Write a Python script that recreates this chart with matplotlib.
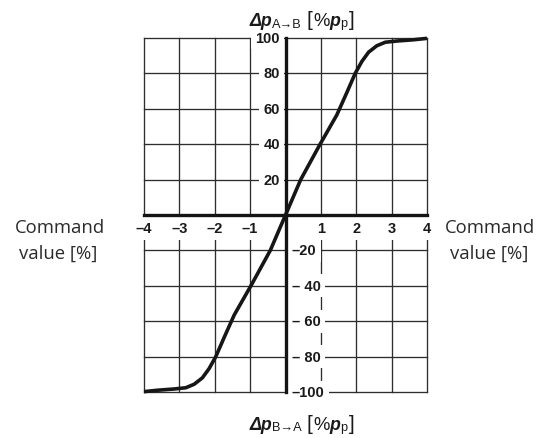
import matplotlib
matplotlib.use("Agg")
import matplotlib.pyplot as plt

# ---- data ----
cmd_x = [-4, -3.62, -3.15, -2.82, -2.58, -2.35, -2.16, -1.97, -1.73, -1.45, -0.95, -0.43, 0,
         0.43, 0.95, 1.45, 1.73, 1.97, 2.16, 2.35, 2.58, 2.82, 3.15, 3.62, 4]
dp_y = [-99.8, -99, -98.3, -97.6, -95.6, -92, -86.8, -80, -69, -56.5, -39, -20, 0,
        20, 39, 56.5, 69, 80, 86.8, 92, 95.6, 97.6, 98.3, 99, 99.8]

x_ticks = [-4, -3, -2, -1, 1, 2, 3, 4]
x_tick_labels = ["–4", "–3", "–2", "–1", "1", "2", "3", "4"]
y_pos_ticks = [20, 40, 60, 80, 100]
y_pos_labels = ["20", "40", "60", "80", "100"]
y_neg_ticks = [-20, -40, -60, -80, -100]
y_neg_labels = ["–20", "– 40", "– 60", "– 80", "–100"]
x_grid = [-4, -3, -2, -1, 1, 2, 3, 4]
y_grid = [-100, -80, -60, -40, -20, 20, 40, 60, 80, 100]

W, H = 539, 439
fig = plt.figure(figsize=(W / 100, H / 100), dpi=100)
L, R, T, B = 144, 427, 39, 393
ax = fig.add_axes([L / W, 1 - B / H, (R - L) / W, (B - T) / H])
ax.set_xlim(-4, 4)
ax.set_ylim(-100, 100)
for s in ax.spines.values():
    s.set_visible(False)
ax.set_xticks([])
ax.set_yticks([])
ax.patch.set_alpha(0)

grid_kw = dict(color='#2e2e2e', lw=0.95, zorder=1, clip_on=False)
for gx in x_grid:
    ax.axvline(gx, **grid_kw)
for gy in y_grid:
    ax.axhline(gy, **grid_kw)

ax.axvline(0, color='#141414', lw=2.4, zorder=4, clip_on=False)
ax.axhline(0, color='#141414', lw=2.4, zorder=4, clip_on=False)

ax.plot(cmd_x, dp_y, color='#161616', lw=2.6, zorder=5, solid_joinstyle='round',
        solid_capstyle='butt', clip_on=False)

tick_font = dict(family=['Liberation Sans Narrow', 'Liberation Sans', 'DejaVu Sans'],
                 weight='bold', size=10.5, color='#1a1a1a')
box = dict(boxstyle='square,pad=0.3', fc='white', ec='none')

for xv, lab in zip(x_ticks, x_tick_labels):
    ax.annotate(lab, xy=(xv, 0), xytext=(0, -9.7), textcoords='offset points',
                ha='center', va='center', bbox=box, zorder=3, annotation_clip=False,
                **tick_font)
for yv, lab in zip(y_pos_ticks, y_pos_labels):
    ax.annotate(lab, xy=(0, yv), xytext=(-4.0, 0), textcoords='offset points',
                ha='right', va='center', bbox=box, zorder=3, annotation_clip=False,
                **tick_font)
for yv, lab in zip(y_neg_ticks, y_neg_labels):
    ax.annotate(lab, xy=(0, yv), xytext=(4.5, 0), textcoords='offset points',
                ha='left', va='center', bbox=box, zorder=3, annotation_clip=False,
                **tick_font)

# ---- axis titles built from pieces ----
renderer = fig.canvas.get_renderer()
FAM = 'Liberation Sans'


def piece_title(x0, baseline, sub):
    pieces = [
        ("Δp", dict(weight='bold', style='italic', size=12.8), 0, 0),
        (sub, dict(size=9.2), 1.0, -1),
        ("[", dict(size=15), 0, 5),
        ("%", dict(size=13.3), 0, 1),
        ("p", dict(weight='bold', style='italic', size=12.8), 0, 0),
        ("p", dict(size=9.2), 1.0, -0.5),
        ("]", dict(size=15), 0, 2),
    ]
    x = x0
    for txt, kw, drop, gap in pieces:
        x += gap
        t = fig.text(x / W, 1 - (baseline + drop) / H, txt, ha='left', va='baseline',
                     family=FAM, color='#1a1a1a', **kw)
        bb = t.get_window_extent(renderer)
        x += bb.width


piece_title(250, 26.5, "A→B")
piece_title(250, 430.5, "B→A")

cfont = dict(family=['Open Sans', 'DejaVu Sans'], size=13.3, color='#2a2a2a')
for cx in (59.5, 490.5):
    fig.text(cx / W, 1 - 233.3 / H, "Command", ha='center', va='baseline', **cfont)
    fig.text((cx - 1) / W, 1 - 258.3 / H, "value [%]", ha='center', va='baseline', **cfont)

fig.savefig("out.png", dpi=100, facecolor='white')
